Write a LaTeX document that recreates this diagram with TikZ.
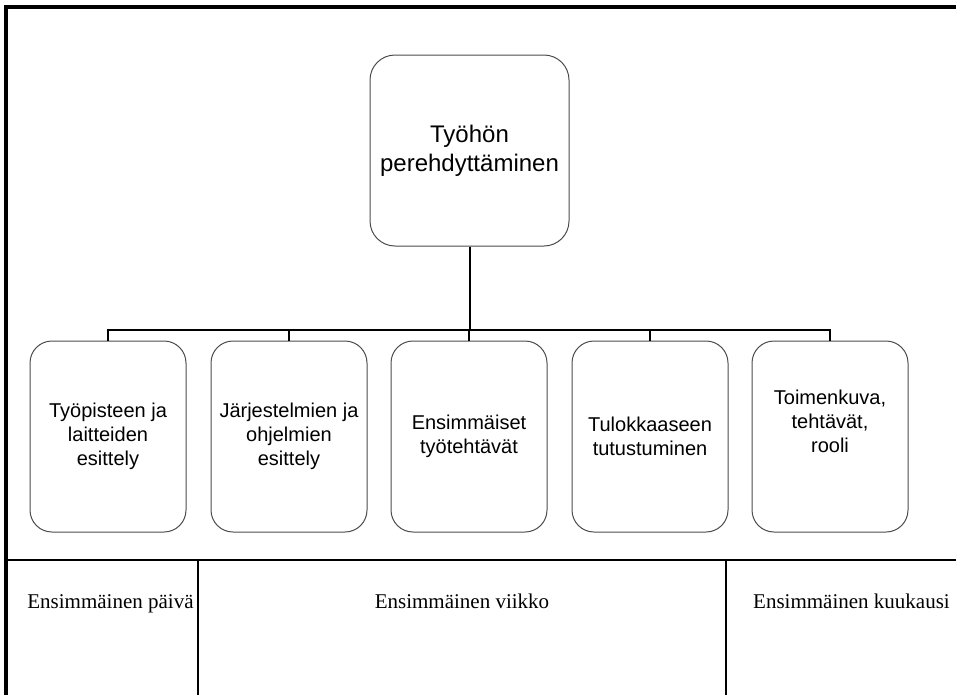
\documentclass[tikz,border=0pt]{standalone}
\usepackage{fontspec}
\setmainfont{Liberation Serif}
\newfontfamily\boxfont{Liberation Sans}
\begin{document}
\begin{tikzpicture}[x=1pt,y=-1pt,
  rootbox/.style={draw=black!70, line width=1pt, rounded corners=25pt,
    minimum width=199pt, minimum height=191pt, align=center, inner sep=0pt,
    font=\boxfont\fontsize{24}{29}\selectfont},
  childbox/.style={draw=black!70, line width=1pt, rounded corners=22pt,
    minimum width=156pt, minimum height=191pt, align=center, inner sep=0pt,
    font=\boxfont\fontsize{20}{24}\selectfont},
  conn/.style={line width=2pt, black},
  framestroke/.style={line width=3.6pt, black, line join=miter},
  gridstroke/.style={line width=1.6pt, black},
  celltext/.style={font=\fontsize{21}{25}\selectfont, anchor=base, inner sep=0pt}]
\useasboundingbox (0,0) rectangle (956,694);

% frame and table lines
\coordinate (ftr) at (960,7);
\coordinate (ftl) at (5.8,7);
\coordinate (fbl) at (5.8,698);
\draw[framestroke] (ftr) -- (ftl) -- (fbl);
\coordinate (sl) at (5,560);
\coordinate (sr) at (960,560);
\draw[gridstroke] (sl) -- (sr);
\coordinate (v1t) at (198,560);
\coordinate (v1b) at (198,698);
\coordinate (v2t) at (726,560);
\coordinate (v2b) at (726,698);
\draw[gridstroke] (v1t) -- (v1b);
\draw[gridstroke] (v2t) -- (v2b);

% boxes
\node[rootbox] (root) at (469.5,150.5) {Työhön\\perehdyttäminen};
\node[childbox] (c1) at (108,436.5) {Työpisteen ja\\laitteiden\\esittely};
\node[childbox] (c2) at (289,436.5) {Järjestelmien ja\\ohjelmien\\esittely};
\node[childbox] (c3) at (469,436.5) {Ensimmäiset\\työtehtävät};
\node[childbox] (c4) at (650,436.5) {Tulokkaaseen\\tutustuminen};
\node[childbox] (c5) at (830,436.5) {Toimenkuva,\\tehtävät,\\rooli\\\strut};

% connectors
\foreach \c in {c1,c2,c3,c4,c5}
  \draw[conn] (root.south) -- ++(0,83) -| (\c.north);

% cell labels
\node[celltext] (l1) at (110.5,608) {Ensimmäinen päivä};
\node[celltext] (l2) at (462,608) {Ensimmäinen viikko};
\node[celltext] (l3) at (851.5,608) {Ensimmäinen kuukausi};
\end{tikzpicture}
\end{document}
